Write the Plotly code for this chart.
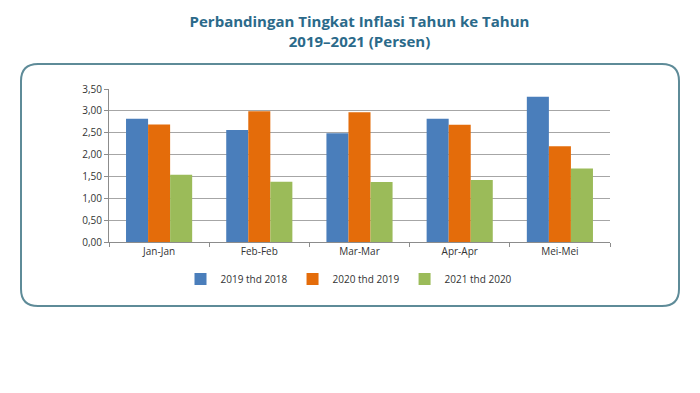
import plotly.graph_objects as go

categories = ["Jan-Jan", "Feb-Feb", "Mar-Mar", "Apr-Apr", "Mei-Mei"]
series_names = ["2019 thd 2018", "2020 thd 2019", "2021 thd 2020"]
v2019 = [2.82, 2.56, 2.49, 2.82, 3.32]
v2020 = [2.69, 2.99, 2.97, 2.68, 2.19]
v2021 = [1.54, 1.38, 1.37, 1.42, 1.68]
y_ticks = [0, 0.5, 1.0, 1.5, 2.0, 2.5, 3.0, 3.5]
colors = ["#4a7ebb", "#e46c0a", "#9bbb59"]

# plot area pixel geometry
L, R, T, B = 109, 610, 89, 242
W, H = 700, 393


def px(x):
    return (x - L) / (R - L)


def py(y):
    return (B - y) / (B - T)


fig = go.Figure()
for name, vals, c in zip(series_names, [v2019, v2020, v2021], colors):
    fig.add_trace(go.Bar(x=categories, y=vals, name=name, marker_color=c,
                         marker_line_width=0))

# rounded frame
x0, x1, y0, y1, r = 21, 679, 64, 306, 17
path = (f"M {px(x0 + r)} {py(y0)} L {px(x1 - r)} {py(y0)} "
        f"Q {px(x1)} {py(y0)} {px(x1)} {py(y0 + r)} "
        f"L {px(x1)} {py(y1 - r)} Q {px(x1)} {py(y1)} {px(x1 - r)} {py(y1)} "
        f"L {px(x0 + r)} {py(y1)} Q {px(x0)} {py(y1)} {px(x0)} {py(y1 - r)} "
        f"L {px(x0)} {py(y0 + r)} Q {px(x0)} {py(y0)} {px(x0 + r)} {py(y0)} Z")
fig.add_shape(type="path", path=path, xref="paper", yref="paper",
              line=dict(color="#5e8b98", width=2), layer="below")

fig.update_layout(
    width=W, height=H,
    margin=dict(l=L, r=W - R, t=T, b=H - B),
    paper_bgcolor="white", plot_bgcolor="white",
    separators=",.",
    barmode="group", bargap=0.34, bargroupgap=0,
    font=dict(family="Open Sans, Liberation Sans, sans-serif", size=10, color="#333333"),
    title=dict(
        text="<b>Perbandingan Tingkat Inflasi Tahun ke Tahun<br>2019–2021 (Persen)</b>",
        x=0.5, xref="paper", xanchor="center",
        y=1 - 27 / H, yanchor="top",
        font=dict(size=15, color="#2b6a8a", family="Open Sans, sans-serif"),
    ),
    legend=dict(orientation="h", x=px(349), xanchor="center", y=py(279), yanchor="middle",
                font=dict(size=10, color="#333333"), itemwidth=30,
                traceorder="normal"),
    showlegend=True,
)
fig.update_xaxes(showline=True, linecolor="#8c8c8c", linewidth=1,
                 ticks="outside", tickson="boundaries", ticklen=4, tickcolor="#8c8c8c",
                 showgrid=False, tickfont=dict(size=10, color="#333333"))
fig.update_yaxes(range=[0, 3.5], tickvals=y_ticks, tickformat=".2f",
                 showline=True, linecolor="#8c8c8c", linewidth=1,
                 ticks="outside", ticklen=4, tickcolor="#8c8c8c",
                 showgrid=True, gridcolor="#a6a6a6", gridwidth=1,
                 zeroline=False, tickfont=dict(size=10, color="#333333"))

fig.write_html("out.html")
